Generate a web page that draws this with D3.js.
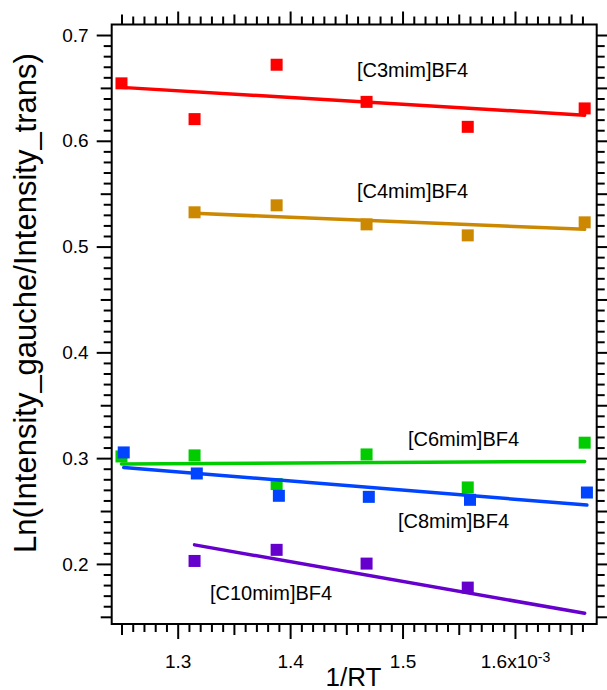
<!DOCTYPE html>
<html>
<head>
<meta charset="utf-8">
<script src="https://cdn.jsdelivr.net/npm/d3@7"></script>
<style>
  body { margin: 0; background: #fff; }
  text { font-family: "Liberation Sans", Arial, sans-serif; }
</style>
</head>
<body>
<div id="chart"></div>
<script>
// 1/RT values (x10^-3)
var xs = [1.250, 1.315, 1.388, 1.468, 1.558, 1.662];
var xsBlue = [1.252, 1.317, 1.390, 1.470, 1.560, 1.664];
var xsShort = [1.315, 1.388, 1.468, 1.558, 1.662];
var xsPurple = [1.315, 1.388, 1.468, 1.558];

var c3 = [0.6543, 0.6205, 0.6719, 0.6368, 0.6132, 0.6306];
var c4 = [0.5324, 0.5390, 0.5210, 0.5106, 0.5229];
var c6 = [0.3016, 0.3026, 0.2755, 0.3035, 0.2723, 0.3146];
var c8 = [0.3054, 0.2855, 0.2644, 0.2634, 0.2606, 0.2675];
var c10 = [0.2028, 0.2133, 0.2003, 0.1776];

// fitted lines: start / end
var fitX = [1.250, 1.662];
var fitXShort = [1.315, 1.662];
var fitXBlue = [1.252, 1.664];
var c3Fit = [0.6505, 0.6242];
var c4Fit = [0.5314, 0.5163];
var c6Fit = [0.2944, 0.2969];
var c8Fit = [0.2912, 0.2556];
var c10Fit = [0.2180, 0.1533];

var xMajor = [1.3, 1.4, 1.5, 1.6];
var xMid = [1.25, 1.35, 1.45, 1.55, 1.65];
var yMajor = [0.2, 0.3, 0.4, 0.5, 0.6, 0.7];
var yMid = [0.15, 0.25, 0.35, 0.45, 0.55, 0.65];

var margin = { top: 24.5, right: 10.3, bottom: 66, left: 111.7 },
    width = 607 - margin.left - margin.right,
    height = 690 - margin.top - margin.bottom;

var svg = d3.select("#chart")
    .append("svg")
    .attr("width", 607)
    .attr("height", 690)
    .append("g")
    .attr("transform", "translate(" + margin.left + "," + margin.top + ")");

var x = d3.scaleLinear().domain([1.2413, 1.6727]).range([0, width]);
var y = d3.scaleLinear().domain([0.1432, 0.70994]).range([height, 0]);

function near(list, v) { return list.some(function (d) { return Math.abs(d - v) < 1e-6; }); }
var xMinor = d3.range(125, 167).map(function (d) { return d / 100; })
    .filter(function (d) { return !near(xMajor, d) && !near(xMid, d); });
var yMinor = d3.range(15, 71).map(function (d) { return d / 100; })
    .filter(function (d) { return !near(yMajor, d) && !near(yMid, d); });

function styleAxis(g) {
    g.select(".domain").remove();
    g.selectAll(".tick line").attr("stroke", "#000").attr("stroke-width", 2);
    g.selectAll("text").style("font-size", "19px").attr("fill", "#000");
}

var none = function () { return ""; };

// bottom
[[xMinor, 8], [xMid, 11]].forEach(function (t) {
    svg.append("g").attr("transform", "translate(0," + height + ")")
        .call(d3.axisBottom(x).tickValues(t[0]).tickSize(t[1]).tickFormat(none)).call(styleAxis);
});
var bx = svg.append("g").attr("transform", "translate(0," + height + ")")
    .call(d3.axisBottom(x).tickValues(xMajor).tickSize(15).tickPadding(16).tickFormat(d3.format(".1f")))
    .call(styleAxis);
bx.selectAll(".tick text").each(function (d) {
    if (d === 1.6) {
        var t = d3.select(this).text("1.6x10");
        t.append("tspan").attr("dy", "-0.45em").style("font-size", "14px").text("-3");
    }
});

// top
[[xMinor, 8], [xMid, 10], [xMajor, 13]].forEach(function (t) {
    svg.append("g")
        .call(d3.axisTop(x).tickValues(t[0]).tickSize(t[1]).tickFormat(none)).call(styleAxis);
});

// left
[[yMinor, 8], [yMid, 11]].forEach(function (t) {
    svg.append("g")
        .call(d3.axisLeft(y).tickValues(t[0]).tickSize(t[1]).tickFormat(none)).call(styleAxis);
});
svg.append("g")
    .call(d3.axisLeft(y).tickValues(yMajor).tickSize(15).tickPadding(8).tickFormat(d3.format(".1f")))
    .call(styleAxis);

// right
[[yMinor, 8], [yMid, 11], [yMajor, 15]].forEach(function (t) {
    svg.append("g").attr("transform", "translate(" + width + ",0)")
        .call(d3.axisRight(y).tickValues(t[0]).tickSize(t[1]).tickFormat(none)).call(styleAxis);
});

svg.append("rect")
    .attr("width", width).attr("height", height)
    .attr("fill", "none").attr("stroke", "#000").attr("stroke-width", 2);

var series = [
    { xs: xs, ys: c3, fx: fitX, fy: c3Fit, color: "#ff0000" },
    { xs: xsShort, ys: c4, fx: fitXShort, fy: c4Fit, color: "#cc8800" },
    { xs: xs, ys: c6, fx: fitX, fy: c6Fit, color: "#00cc00" },
    { xs: xsBlue, ys: c8, fx: fitXBlue, fy: c8Fit, color: "#0044ff" },
    { xs: xsPurple, ys: c10, fx: fitXShort, fy: c10Fit, color: "#6600cc" }
];

var line = d3.line().x(function (d) { return x(d[0]); }).y(function (d) { return y(d[1]); });

series.forEach(function (s) {
    svg.append("path")
        .datum(d3.zip(s.fx, s.fy))
        .attr("fill", "none")
        .attr("stroke", s.color)
        .attr("stroke-width", 3.5)
        .attr("stroke-linecap", "round")
        .attr("d", line);

    svg.append("g").selectAll("rect")
        .data(d3.zip(s.xs, s.ys))
        .enter()
        .append("rect")
        .attr("x", function (d) { return x(d[0]) - 6; })
        .attr("y", function (d) { return y(d[1]) - 6; })
        .attr("width", 12)
        .attr("height", 12)
        .attr("fill", s.color);
});

var notes = [
    { text: "[C3mim]BF4", x: 1.4595, y: 0.6669 },
    { text: "[C4mim]BF4", x: 1.4595, y: 0.5523 },
    { text: "[C6mim]BF4", x: 1.5048, y: 0.3184 },
    { text: "[C8mim]BF4", x: 1.4959, y: 0.2407 },
    { text: "[C10mim]BF4", x: 1.3287, y: 0.1725 }
];
svg.selectAll(".note")
    .data(notes)
    .enter()
    .append("text")
    .attr("class", "note")
    .attr("x", function (d) { return x(d.x); })
    .attr("y", function (d) { return y(d.y) + 7; })
    .style("font-size", "20px")
    .text(function (d) { return d.text; });

svg.append("text")
    .attr("text-anchor", "middle")
    .attr("x", 353.5 - margin.left)
    .attr("y", height + 62)
    .style("font-size", "26px")
    .text("1/RT");

svg.append("text")
    .attr("text-anchor", "middle")
    .attr("transform", "translate(" + (36 - margin.left) + "," + (303 - margin.top) + ") rotate(-90)")
    .style("font-size", "31px")
    .text("Ln(Intensity_gauche/Intensity_trans)");
</script>
</body>
</html>
